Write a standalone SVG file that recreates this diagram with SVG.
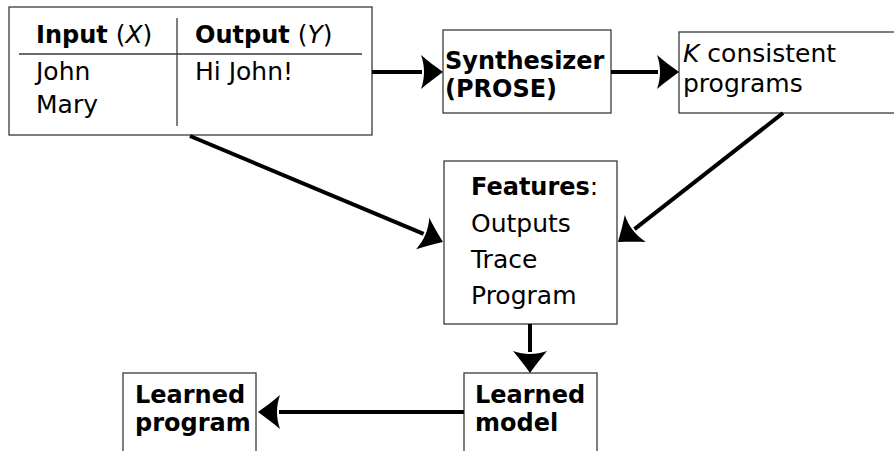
<svg xmlns="http://www.w3.org/2000/svg" width="894" height="451" viewBox="0 0 894 451">
<style>
.box{fill:#fff;stroke:#3a3a3a;stroke-width:1.3}
.rule{stroke:#3a3a3a;stroke-width:1.3;fill:none}
.t{font-family:"DejaVu Sans",sans-serif;font-size:25px;fill:#000}
.b{font-weight:bold;font-size:24px}
.i{font-style:italic}
.c{stroke:#000;stroke-width:4;fill:none}
</style>
<defs>
<marker id="ah" markerUnits="userSpaceOnUse" markerWidth="50" markerHeight="50" viewBox="-10 -25 40 50" refX="0" refY="0" orient="auto" overflow="visible">
<path d="M21,0 C14,-5 6,-11 -1,-17 C3,-6 3,6 -1,17 C6,11 14,5 21,0 Z" fill="#000"/>
</marker>
</defs>
<rect width="894" height="451" fill="#fff"/>
<g id="table">
<rect class="box" x="9" y="7" width="363" height="128"/>
<line class="rule" x1="19" y1="54" x2="362" y2="54"/>
<line class="rule" x1="177" y1="18" x2="177" y2="126"/>
<text class="t" x="36" y="43"><tspan class="b">Input</tspan> (<tspan class="i">X</tspan>)</text>
<text class="t" x="195" y="43"><tspan class="b">Output</tspan> (<tspan class="i">Y</tspan>)</text>
<text class="t" x="36" y="80">John</text>
<text class="t" x="195" y="80">Hi John!</text>
<text class="t" x="36" y="113">Mary</text>
</g>
<g id="synth">
<rect class="box" x="443" y="30" width="168" height="83"/>
<text class="t b" x="445" y="69">Synthesizer</text>
<text class="t b" x="445" y="97">(PROSE)</text>
</g>
<g id="kprog">
<rect class="box" x="679" y="32" width="230" height="81"/>
<text class="t" x="683" y="62"><tspan class="i">K</tspan> consistent</text>
<text class="t" x="683" y="92">programs</text>
</g>
<g id="features">
<rect class="box" x="444" y="161" width="173" height="163"/>
<text class="t" x="471" y="195"><tspan class="b">Features</tspan>:</text>
<text class="t" x="471" y="232">Outputs</text>
<text class="t" x="471" y="268">Trace</text>
<text class="t" x="471" y="304">Program</text>
</g>
<g id="model">
<rect class="box" x="464" y="373" width="133" height="90"/>
<text class="t b" x="475" y="403">Learned</text>
<text class="t b" x="475" y="431">model</text>
</g>
<g id="program">
<rect class="box" x="123" y="373" width="133" height="90"/>
<text class="t b" x="135" y="403">Learned</text>
<text class="t b" x="135" y="431">program</text>
</g>
<g id="connectors">
<line class="c" x1="372" y1="72" x2="422" y2="72" marker-end="url(#ah)"/>
<line class="c" x1="611" y1="72" x2="658" y2="72" marker-end="url(#ah)"/>
<line class="c" x1="190" y1="136" x2="423.6" y2="233.9" marker-end="url(#ah)"/>
<line class="c" x1="783" y1="113" x2="634.5" y2="229.1" marker-end="url(#ah)"/>
<line class="c" x1="530" y1="324" x2="530" y2="352" marker-end="url(#ah)"/>
<line class="c" x1="464" y1="412" x2="279" y2="412" marker-end="url(#ah)"/>
</g>
</svg>
